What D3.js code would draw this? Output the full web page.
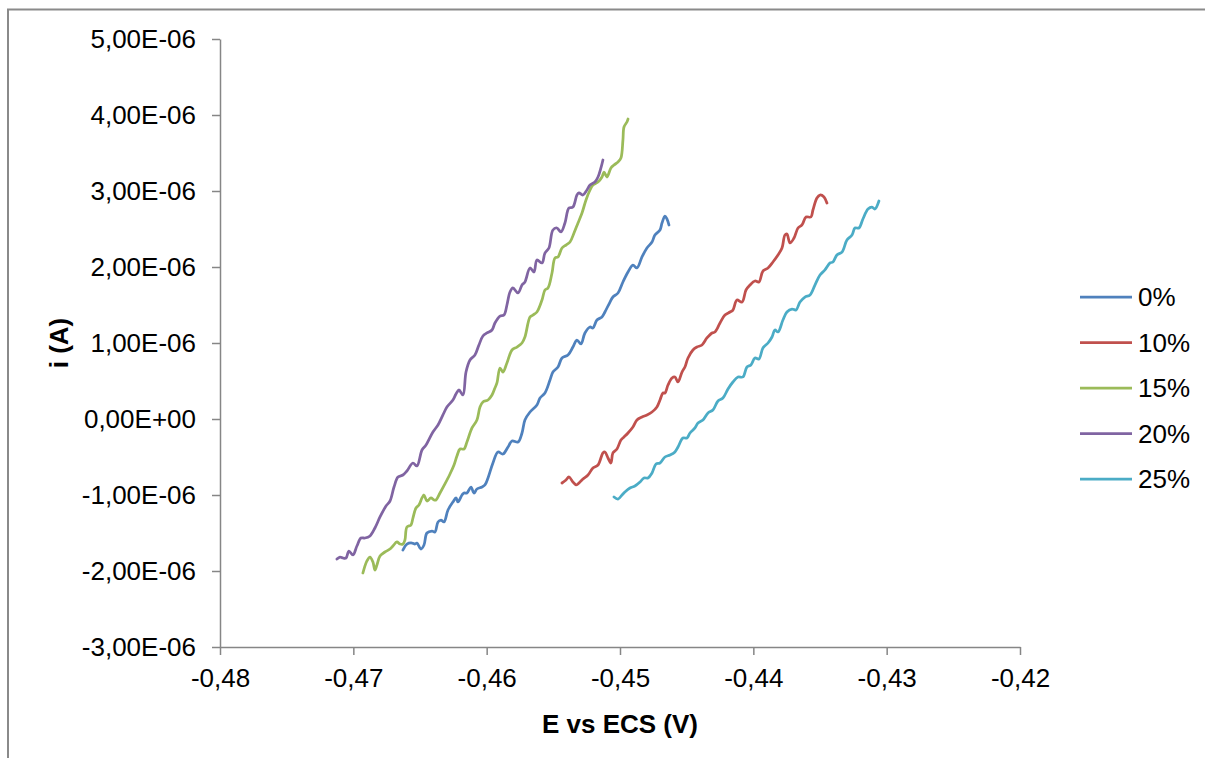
<!DOCTYPE html>
<html>
<head>
<meta charset="utf-8">
<script src="https://cdnjs.cloudflare.com/ajax/libs/d3/7.8.5/d3.min.js"></script>
<style>
  body { margin: 0; background: #fff; }
  svg text { font-family: "Liberation Sans", Arial, sans-serif; fill: #000; }
  .axis path, .axis line { stroke: #868686; stroke-width: 1.5; }
</style>
</head>
<body>
<div class="chartDiv"></div>
<script>
// Polarisation curves, E vs ECS (V) against i (current given in µA, drawn in A)

let seriesNames = ['0%', '10%', '15%', '20%', '25%'];
let seriesColors = ['#4F81BD', '#C0504D', '#9BBB59', '#8064A2', '#4BACC6'];

let xTicks = [-0.48, -0.47, -0.46, -0.45, -0.44, -0.43, -0.42];
let yTicks = [-3e-6, -2e-6, -1e-6, 0, 1e-6, 2e-6, 3e-6, 4e-6, 5e-6];

// 0%
let e0 = [-0.46628,-0.46598,-0.4656,-0.46538,-0.46523,-0.46493,-0.4647,-0.46448,-0.4641,-0.46388,
  -0.46365,-0.46343,-0.4632,-0.4629,-0.46253,-0.4623,-0.46215,-0.46185,-0.4617,-0.46148,
  -0.46118,-0.46095,-0.46073,-0.46035,-0.46013,-0.4599,-0.45953,-0.45915,-0.45878,-0.4584,
  -0.4581,-0.45765,-0.45735,-0.45713,-0.45675,-0.45623,-0.456,-0.45563,-0.45525,-0.45503,
  -0.45465,-0.45435,-0.4539,-0.45353,-0.45323,-0.45293,-0.45263,-0.45225,-0.45203,-0.45173,
  -0.45135,-0.45113,-0.45075,-0.45053,-0.45015,-0.44978,-0.4494,-0.44903,-0.44873,-0.44835,
  -0.44798,-0.4476,-0.44738,-0.447,-0.44685,-0.44663,-0.44648,-0.44633];
let i0 = [-1.724,-1.645,-1.632,-1.645,-1.632,-1.711,-1.658,-1.500,-1.474,-1.487,
  -1.355,-1.329,-1.355,-1.197,-1.092,-1.039,-1.092,-1.000,-0.974,-0.974,
  -0.895,-0.974,-0.921,-0.895,-0.868,-0.776,-0.579,-0.434,-0.461,-0.368,
  -0.289,-0.303,-0.184,-0.013,0.092,0.184,0.276,0.342,0.513,0.618,
  0.684,0.803,0.842,0.947,1.039,0.987,1.132,1.211,1.197,1.303,
  1.342,1.408,1.539,1.605,1.658,1.803,1.934,2.026,1.987,2.132,
  2.250,2.329,2.421,2.487,2.579,2.671,2.632,2.553];

// 10%
let e10 = [-0.45435,-0.45405,-0.45383,-0.45353,-0.4533,-0.45315,-0.45278,-0.4524,-0.45203,-0.45165,
  -0.45128,-0.45113,-0.4509,-0.45068,-0.45053,-0.45023,-0.44993,-0.4497,-0.4494,-0.44903,
  -0.44873,-0.44835,-0.44798,-0.4476,-0.44723,-0.447,-0.44678,-0.44663,-0.4464,-0.4461,
  -0.44588,-0.44565,-0.44535,-0.44513,-0.4449,-0.44453,-0.44423,-0.44385,-0.44348,-0.4431,
  -0.44288,-0.4425,-0.44213,-0.44175,-0.44153,-0.44123,-0.44085,-0.44055,-0.44025,-0.43988,
  -0.43958,-0.43928,-0.4389,-0.43853,-0.43815,-0.43785,-0.43763,-0.43748,-0.43725,-0.43695,
  -0.43665,-0.43635,-0.43605,-0.43568,-0.43553,-0.43523,-0.435,-0.4347,-0.43448];
let i10 = [-0.842,-0.803,-0.763,-0.829,-0.868,-0.855,-0.789,-0.737,-0.645,-0.605,
  -0.447,-0.434,-0.513,-0.579,-0.447,-0.395,-0.276,-0.237,-0.184,-0.105,
  -0.013,0.026,0.053,0.092,0.158,0.250,0.342,0.342,0.447,0.539,
  0.553,0.487,0.618,0.684,0.803,0.908,0.947,0.974,1.066,1.132,
  1.145,1.263,1.368,1.408,1.434,1.566,1.539,1.697,1.763,1.816,
  1.803,1.947,1.987,2.066,2.158,2.250,2.421,2.434,2.316,2.382,
  2.513,2.553,2.658,2.658,2.750,2.908,2.947,2.921,2.842];

// 15%
let e15 = [-0.46928,-0.46898,-0.46875,-0.46853,-0.46838,-0.46823,-0.468,-0.46763,-0.46725,-0.46703,
  -0.46673,-0.4665,-0.46628,-0.46613,-0.46598,-0.46568,-0.46553,-0.4653,-0.46508,-0.46485,
  -0.4647,-0.46448,-0.46418,-0.46395,-0.4638,-0.4635,-0.46313,-0.46275,-0.46245,-0.46223,
  -0.462,-0.4617,-0.46148,-0.4611,-0.46073,-0.4605,-0.46028,-0.4599,-0.4596,-0.45938,
  -0.45923,-0.459,-0.45878,-0.45848,-0.4581,-0.45773,-0.45735,-0.45713,-0.45675,-0.45653,
  -0.45623,-0.45585,-0.45563,-0.4554,-0.4551,-0.45488,-0.45465,-0.45435,-0.45405,-0.45375,
  -0.45345,-0.45315,-0.45285,-0.45255,-0.45225,-0.45203,-0.45165,-0.45135,-0.4512,-0.45098,
  -0.45068,-0.45045,-0.45015,-0.44993,-0.44978,-0.4497,-0.44948,-0.4494];
let i15 = [-2.026,-1.868,-1.816,-1.882,-1.987,-1.921,-1.803,-1.750,-1.711,-1.671,
  -1.618,-1.645,-1.645,-1.592,-1.421,-1.395,-1.303,-1.171,-1.132,-1.039,
  -1.000,-1.079,-1.039,-1.066,-1.066,-0.974,-0.855,-0.724,-0.605,-0.487,
  -0.395,-0.395,-0.303,-0.118,-0.013,0.158,0.224,0.250,0.316,0.408,
  0.474,0.671,0.618,0.737,0.908,0.947,1.000,1.079,1.342,1.368,
  1.408,1.566,1.697,1.724,1.921,2.118,2.132,2.250,2.289,2.329,
  2.447,2.579,2.711,2.882,3.013,3.079,3.118,3.184,3.250,3.184,
  3.303,3.342,3.382,3.434,3.671,3.842,3.908,3.947];

// 20%
let e20 = [-0.47123,-0.471,-0.47078,-0.47055,-0.47033,-0.47003,-0.46973,-0.46943,-0.46913,-0.46875,
  -0.46838,-0.468,-0.46755,-0.46725,-0.46695,-0.46665,-0.46628,-0.46598,-0.46553,-0.46523,
  -0.46485,-0.46455,-0.46403,-0.46365,-0.46328,-0.46298,-0.46253,-0.4623,-0.46208,-0.46178,
  -0.46155,-0.46125,-0.46088,-0.46058,-0.46028,-0.45998,-0.4596,-0.45938,-0.459,-0.4587,
  -0.45848,-0.45825,-0.45803,-0.45765,-0.45735,-0.45713,-0.45675,-0.45645,-0.45623,-0.45585,
  -0.45563,-0.45533,-0.45503,-0.45473,-0.45443,-0.45413,-0.45383,-0.45353,-0.45323,-0.45308,
  -0.45278,-0.45248,-0.45225,-0.45188,-0.45165,-0.45143,-0.45128];
let i20 = [-1.842,-1.816,-1.829,-1.829,-1.737,-1.789,-1.671,-1.566,-1.566,-1.539,
  -1.434,-1.289,-1.145,-1.079,-0.895,-0.763,-0.737,-0.684,-0.579,-0.618,
  -0.408,-0.342,-0.171,-0.079,0.053,0.158,0.250,0.329,0.382,0.316,
  0.618,0.776,0.842,0.974,1.092,1.132,1.171,1.263,1.355,1.368,
  1.500,1.671,1.724,1.658,1.763,1.803,1.987,1.934,2.092,2.053,
  2.184,2.250,2.487,2.513,2.461,2.579,2.776,2.789,2.947,2.974,
  2.947,3.013,3.079,3.118,3.184,3.303,3.408];

// 25%
let e25 = [-0.45045,-0.45015,-0.44985,-0.44963,-0.44925,-0.44888,-0.4485,-0.4482,-0.4479,-0.4476,
  -0.4473,-0.447,-0.44663,-0.44625,-0.44588,-0.44565,-0.44528,-0.44498,-0.44475,-0.44438,
  -0.44415,-0.44378,-0.4434,-0.44303,-0.44265,-0.44228,-0.4419,-0.44153,-0.44115,-0.44078,
  -0.44048,-0.44018,-0.43988,-0.43958,-0.43928,-0.4389,-0.4386,-0.43838,-0.43815,-0.43778,
  -0.43748,-0.4371,-0.4368,-0.4365,-0.43613,-0.43575,-0.43538,-0.435,-0.43463,-0.43425,
  -0.43403,-0.43373,-0.43335,-0.43298,-0.4326,-0.43238,-0.43208,-0.43178,-0.4314,-0.4311,
  -0.43088,-0.43058];
let i25 = [-1.026,-1.053,-1.000,-0.961,-0.908,-0.882,-0.829,-0.776,-0.776,-0.711,
  -0.592,-0.579,-0.500,-0.474,-0.434,-0.368,-0.250,-0.250,-0.184,-0.118,
  -0.053,-0.013,0.079,0.118,0.237,0.276,0.395,0.487,0.553,0.553,
  0.684,0.711,0.803,0.789,0.934,1.000,1.079,1.171,1.145,1.303,
  1.408,1.447,1.434,1.539,1.605,1.632,1.763,1.895,1.961,2.053,
  2.066,2.158,2.197,2.355,2.421,2.513,2.513,2.632,2.763,2.789,
  2.763,2.868];

let seriesE = [e0, e10, e15, e20, e25];
let seriesI = [i0, i10, i15, i20, i25];

let svgWidth = 1205;
let svgHeight = 758;

let margin = { top: 39, bottom: 111, left: 220, right: 185 };
let graphWidth = svgWidth - margin.left - margin.right;
let graphHeight = svgHeight - margin.top - margin.bottom;

let svg = d3.select('.chartDiv')
  .append('svg')
  .attr('width', svgWidth)
  .attr('height', svgHeight);

// chart area border (runs off the right and bottom edges)
svg.append('rect')
  .attr('x', 8).attr('y', 9.5)
  .attr('width', 1220).attr('height', 780)
  .attr('fill', 'none')
  .attr('stroke', '#8a8a8a')
  .attr('stroke-width', 2);

let chartGroup = svg.append('g')
  .attr('transform', `translate(${margin.left}, ${margin.top})`);

let xScale = d3.scaleLinear().domain([-0.48, -0.42]).range([0, graphWidth]);
let yScale = d3.scaleLinear().domain([-3e-6, 5e-6]).range([graphHeight, 0]);

let fmtX = v => v.toFixed(2).replace('.', ',');
let fmtY = v => {
  if (Math.abs(v) < 1e-12) return '0,00E+00';
  let [m, ex] = v.toExponential(2).split('e');
  let n = +ex;
  return m.replace('.', ',') + 'E' + (n < 0 ? '-' : '+') + String(Math.abs(n)).padStart(2, '0');
};

let leftAxis = d3.axisLeft(yScale).tickValues(yTicks).tickFormat(fmtY)
  .tickSize(8).tickSizeOuter(0).tickPadding(16);
let bottomAxis = d3.axisBottom(xScale).tickValues(xTicks).tickFormat(fmtX)
  .tickSize(8).tickSizeOuter(0).tickPadding(14);

chartGroup.append('g')
  .classed('axis', true)
  .call(leftAxis)
  .selectAll('text').attr('font-size', 26).style('font-family', '"Liberation Sans", Arial, sans-serif');

chartGroup.append('g')
  .classed('axis', true)
  .attr('transform', `translate(0, ${graphHeight})`)
  .call(bottomAxis)
  .selectAll('text').attr('font-size', 26).style('font-family', '"Liberation Sans", Arial, sans-serif');

// axis titles
svg.append('text')
  .attr('x', margin.left + graphWidth / 2)
  .attr('y', 733)
  .attr('text-anchor', 'middle')
  .attr('font-size', 26)
  .attr('font-weight', 'bold')
  .text('E vs ECS (V)');

svg.append('text')
  .attr('transform', `translate(68, ${margin.top + graphHeight / 2}) rotate(-90)`)
  .attr('text-anchor', 'middle')
  .attr('font-size', 26)
  .attr('font-weight', 'bold')
  .text('i (A)');

// curves
let line = d3.line()
  .x(d => xScale(d[0]))
  .y(d => yScale(d[1] * 1e-6))
  .curve(d3.curveCatmullRom.alpha(0.5));

seriesNames.forEach((name, k) => {
  let pts = seriesE[k].map((e, j) => [e, seriesI[k][j]]);
  chartGroup.append('path')
    .datum(pts)
    .attr('fill', 'none')
    .attr('stroke', seriesColors[k])
    .attr('stroke-width', 2.75)
    .attr('stroke-linejoin', 'round')
    .attr('stroke-linecap', 'round')
    .attr('d', line);
});

// legend
let legend = svg.append('g').attr('transform', 'translate(1080, 297)');
seriesNames.forEach((name, k) => {
  let row = legend.append('g').attr('transform', `translate(0, ${k * 45.5})`);
  row.append('line')
    .attr('x1', 0).attr('x2', 52)
    .attr('y1', 0).attr('y2', 0)
    .attr('stroke', seriesColors[k])
    .attr('stroke-width', 2.75);
  row.append('text')
    .attr('x', 58)
    .attr('dy', '0.35em')
    .attr('font-size', 26)
    .text(name);
});
</script>
</body>
</html>
